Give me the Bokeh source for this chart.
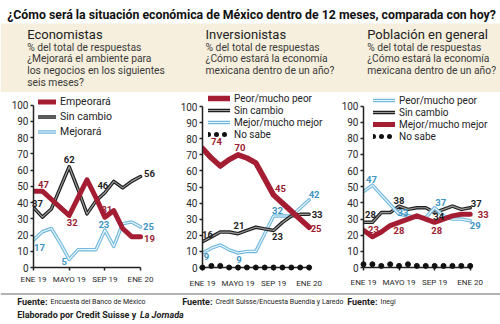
from bokeh.plotting import figure
from bokeh.models import (ColumnDataSource, Range1d, FixedTicker, Legend, LegendItem,
                          Label, BoxAnnotation, Span)
from bokeh.layouts import column, row
from bokeh.embed import file_html
from bokeh.resources import INLINE
from bokeh.core.properties import value

# ---------------- data ----------------
months = ["ENE 19", "FEB 19", "MAR 19", "ABR 19", "MAYO 19", "JUN 19", "JUL 19",
          "AGO 19", "SEP 19", "OCT 19", "NOV 19", "DIC 19", "ENE 20"]
tick_idx = [0, 4, 8, 12]
y_ticks = list(range(0, 101, 10))

title_text = "¿Cómo será la situación económica de México dentro de 12 meses, comparada con hoy?"
heads = ["Economistas", "Inversionistas", "Población en general"]
subs = [
    ["% del total de respuestas", "¿Mejorará el ambiente para",
     "los negocios en los siguientes", "seis meses?"],
    ["% del total de respuestas", "¿Cómo estará la economía",
     "mexicana dentro de un año?"],
    ["% del total de respuestas", "¿Cómo estará la economía",
     "mexicana dentro de un año?"],
]

# Economistas
eco_empeorara = [47, 47, 42, 37, 32, 43, 54, 43, 31, 35, 24, 19, 19]
eco_sin_cambio = [37, 31, 36, 49, 62, 48, 33, 41, 46, 53, 49, 53, 56]
eco_mejorara = [17, 22, 24, 15, 5, 11, 11, 11, 23, 13, 27, 28, 25]

# Inversionistas
inv_peor = [74, 68, 63, 67, 70, 68, 65, 55, 45, 40, 35, 30, 25]
inv_sin_cambio = [16, 19, 22, 22, 21, 23, 25, 24, 23, 28, 32, 33, 33]
inv_mejor = [9, 12, 14, 11, 9, 10, 10, 21, 32, 32, 32, 37, 42]
inv_no_sabe = [0, 1, 1, 0, 0, 0, 0, 0, 0, 0, 0, 0, 0]

# Población en general
pob_peor = [47, 51, 45, 39, 33, 32, 31, 31, 37, 32, 30, 30, 29]
pob_sin_cambio = [28, 28, 34, 34, 38, 36, 37, 37, 34, 36, 38, 36, 37]
pob_mejor = [23, 19, 22, 26, 28, 30, 32, 30, 28, 30, 32, 33, 33]
pob_no_sabe = [2, 2, 1, 2, 1, 2, 1, 1, 1, 1, 1, 1, 1]

sources_txt = ["Encuesta del Banco de México",
               "Credit Suisse/Encuesta Buendía y Laredo",
               "Inegi"]

# ---------------- styles ----------------
FONT = "Roboto"
RED = "#a51d33"
RED_TXT = "#9c1c31"
BLACK = "#1f1f1f"
BLACK_IN = "#9a9a9a"
BLUE = "#72b9dd"
BLUE_IN = "#e9f5fb"
BLUE_TXT = "#3e95c3"
BEIGE = "#f6efdd"

x = list(range(len(months)))
NAN = float("nan")


def style_axes(p, label_standoff):
    xa = p.xaxis[0]
    ya = p.yaxis[0]
    xa.ticker = FixedTicker(ticks=tick_idx)
    xa.major_label_overrides = {i: months[i] for i in tick_idx}
    xa.bounds = (0, 12)
    ya.ticker = FixedTicker(ticks=y_ticks)
    ya.bounds = (0, 100)
    for a in (xa, ya):
        a.axis_line_color = "#222222"
        a.axis_line_width = 1.5
        a.major_tick_line_color = "#222222"
        a.major_tick_line_width = 1.5
        a.major_tick_out = 3
        a.major_tick_in = 0
        a.minor_tick_line_color = None
        a.major_label_text_font = FONT
        a.major_label_text_color = "#2a2a2a"
    xa.major_label_text_font_size = "8px"
    xa.major_label_standoff = label_standoff
    ya.major_label_text_font_size = "10px"
    ya.major_label_standoff = 2
    p.xgrid.visible = False
    p.ygrid.visible = False
    p.outline_line_color = None


def outlined(p, vals, outer, inner, w_out=3.5, w_in=1.2):
    src = ColumnDataSource(dict(x=x, y=vals))
    r1 = p.line("x", "y", source=src, line_color=outer, line_width=w_out,
                line_join="round", line_cap="round")
    r2 = p.line("x", "y", source=src, line_color=inner, line_width=w_in,
                line_join="round", line_cap="round")
    return [r1, r2]


def solid(p, vals, color, w=5):
    src = ColumnDataSource(dict(x=x, y=vals))
    return [p.line("x", "y", source=src, line_color=color, line_width=w,
                   line_join="round", line_cap="round")]


def dots(p, vals):
    src = ColumnDataSource(dict(x=x, y=vals))
    r = p.scatter("x", "y", source=src, size=5, color="#111111")
    r.level = "overlay"
    # legend-only glyph: a row of round dots (nothing is drawn in the plot area)
    legend_r = p.line(x=[NAN], y=[NAN], line_color="#111111", line_width=5,
                      line_dash="0 8", line_cap="round")
    return [legend_r]


def value_labels(p, series, colors, offsets):
    xs, ys, ts, xo, yo, cs = [], [], [], [], [], []
    for vals, col, offs in zip(series, colors, offsets):
        for i, (dx, dy) in zip(tick_idx, offs):
            xs.append(i)
            ys.append(vals[i])
            ts.append(str(vals[i]))
            xo.append(dx)
            yo.append(dy)
            cs.append(col)
    src = ColumnDataSource(dict(x=xs, y=ys, t=ts, xo=xo, yo=yo, c=cs))
    r = p.text("x", "y", text="t", source=src, x_offset="xo", y_offset="yo",
               text_color="c", text_font=value(FONT), text_font_style="bold",
               text_font_size="9.5px", text_align="center", text_baseline="middle")
    r.level = "overlay"


def add_legend(p, items, loc, row_h, glyph_w, font_size):
    leg = Legend(items=[LegendItem(label=l, renderers=r) for l, r in items],
                 location=loc, orientation="vertical", padding=0, margin=0, spacing=0,
                 label_standoff=4, glyph_width=glyph_w, glyph_height=row_h,
                 label_height=row_h, label_text_font=FONT,
                 label_text_font_size=font_size, label_text_color="#222222",
                 border_line_color=None, background_fill_alpha=0)
    p.add_layout(leg)


def chart(width, left, right, bottom, x_end, y_end):
    p = figure(width=width, height=200, x_range=Range1d(0, x_end),
               y_range=Range1d(0, y_end), output_backend="svg",
               toolbar_location=None, min_border_left=left,
               min_border_right=right, min_border_top=0,
               min_border_bottom=bottom, title=None)
    return p


# ---------------- chart 1: Economistas ----------------
c1 = chart(167, 33, 3, 19, 14.69, 107.7)
style_axes(c1, 4)
b1 = outlined(c1, eco_mejorara, BLUE, BLUE_IN)
k1 = outlined(c1, eco_sin_cambio, BLACK, BLACK_IN)
r1 = solid(c1, eco_empeorara, RED, 5)
value_labels(c1, [eco_empeorara, eco_sin_cambio, eco_mejorara],
             [RED_TXT, BLACK, BLUE_TXT],
             [[(10, -7), (3, 7), (2, -8), (9, 2)],
              [(4, -4), (0, -7), (-2, -7), (9, -3)],
              [(6, 8), (-5, 2), (-1, -6), (8, 0)]])
add_legend(c1, [("Empeorará", r1), ("Sin cambio", k1), ("Mejorará", b1)],
           (5, 128), 15, 18, "10.5px")

# ---------------- chart 2: Inversionistas ----------------
c2 = chart(167, 35, 3, 25, 14.52, 108.7)
style_axes(c2, 8)
n2 = dots(c2, inv_no_sabe)
b2 = outlined(c2, inv_mejor, BLUE, BLUE_IN)
k2 = outlined(c2, inv_sin_cambio, BLACK, BLACK_IN)
r2 = solid(c2, inv_peor, RED, 5.5)
value_labels(c2, [inv_peor, inv_sin_cambio, inv_mejor],
             [RED_TXT, BLACK, BLUE_TXT],
             [[(14, -7), (2, -7), (7, -7), (7, 1)],
              [(5, -7), (1, -8), (4, 6), (8, 0)],
              [(4, 3), (1, 6), (4, -5), (5, -5)]])
add_legend(c2, [("Peor/mucho peor", r2), ("Sin cambio", k2),
                ("Mejor/mucho mejor", b2), ("No sabe", n2)],
           (6, 127), 12, 22, "10px")

# ---------------- chart 3: Población ----------------
c3 = chart(166, 29, 3, 23, 15.07, 108.4)
style_axes(c3, 7)
n3 = dots(c3, pob_no_sabe)
k3 = outlined(c3, pob_sin_cambio, BLACK, BLACK_IN)
b3 = outlined(c3, pob_peor, BLUE, BLUE_IN)
r3 = solid(c3, pob_mejor, RED, 5)
value_labels(c3, [pob_peor, pob_sin_cambio, pob_mejor],
             [BLUE_TXT, BLACK, RED_TXT],
             [[(8, -12), (4, -2), (6, -5), (5, 5)],
              [(7, -8), (0, -6), (4, 4), (6, -4)],
              [(10, -1), (0, 8), (2, 8), (13, 0)]])
add_legend(c3, [("Peor/mucho peor", b3), ("Sin cambio", k3),
                ("Mejor/mucho mejor", r3), ("No sabe", n3)],
           (10, 125), 12, 22, "10px")

# ---------------- header ----------------
hdr = figure(width=500, height=92, x_range=Range1d(0, 500), y_range=Range1d(92, 0),
             output_backend="svg", toolbar_location=None, min_border=0,
             x_axis_type=None, y_axis_type=None, title=None)
hdr.outline_line_color = None
hdr.grid.visible = False
hdr.add_layout(BoxAnnotation(left=0, right=500, top=23, bottom=92,
                             fill_color=BEIGE, fill_alpha=1, line_color=None))
hdr.add_layout(Label(x=251, y=14, text=title_text, text_align="center",
                     text_baseline="middle", text_font=FONT, text_font_style="bold",
                     text_font_size="12.3px", text_color="#111111"))
col_x = [26.7, 205, 366.7]
for cx, h, lines in zip(col_x, heads, subs):
    hdr.add_layout(Label(x=cx, y=34, text=h, text_align="left", text_baseline="middle",
                         text_font=FONT, text_font_size="13px", text_color="#222222"))
    for j, t in enumerate(lines):
        hdr.add_layout(Label(x=cx, y=46.7 + 11.7 * j, text=t, text_align="left",
                             text_baseline="middle", text_font=FONT,
                             text_font_size="10.3px", text_color="#3a3a3a"))

# ---------------- footer ----------------
ftr = figure(width=500, height=32, x_range=Range1d(0, 500), y_range=Range1d(324, 292),
             output_backend="svg", toolbar_location=None, min_border=0,
             x_axis_type=None, y_axis_type=None, title=None)
ftr.outline_line_color = None
ftr.grid.visible = False
ftr.add_layout(Span(location=293.5, dimension="width", line_color="#9a9a9a", line_width=1.5))
fx = [16.7, 181.7, 346.7]
tx = [50, 215, 380]
for a, b, s in zip(fx, tx, sources_txt):
    ftr.add_layout(Label(x=a, y=301, text="Fuente:", text_baseline="middle",
                         text_font=FONT, text_font_style="bold", text_font_size="9px",
                         text_color="#222222"))
    ftr.add_layout(Label(x=b, y=301, text=s, text_baseline="middle",
                         text_font=FONT, text_font_size="7px", text_color="#222222"))
ftr.add_layout(Label(x=16.7, y=314, text="Elaborado por Credit Suisse y",
                     text_baseline="middle", text_font=FONT, text_font_style="bold",
                     text_font_size="9px", text_color="#222222"))
ftr.add_layout(Label(x=139.5, y=314, text="La Jornada", text_baseline="middle",
                     text_font=FONT, text_font_style="bold italic",
                     text_font_size="9px", text_color="#222222"))

layout = column(hdr, row(c1, c2, c3), ftr)
open("out.html", "w").write(file_html(layout, INLINE))
